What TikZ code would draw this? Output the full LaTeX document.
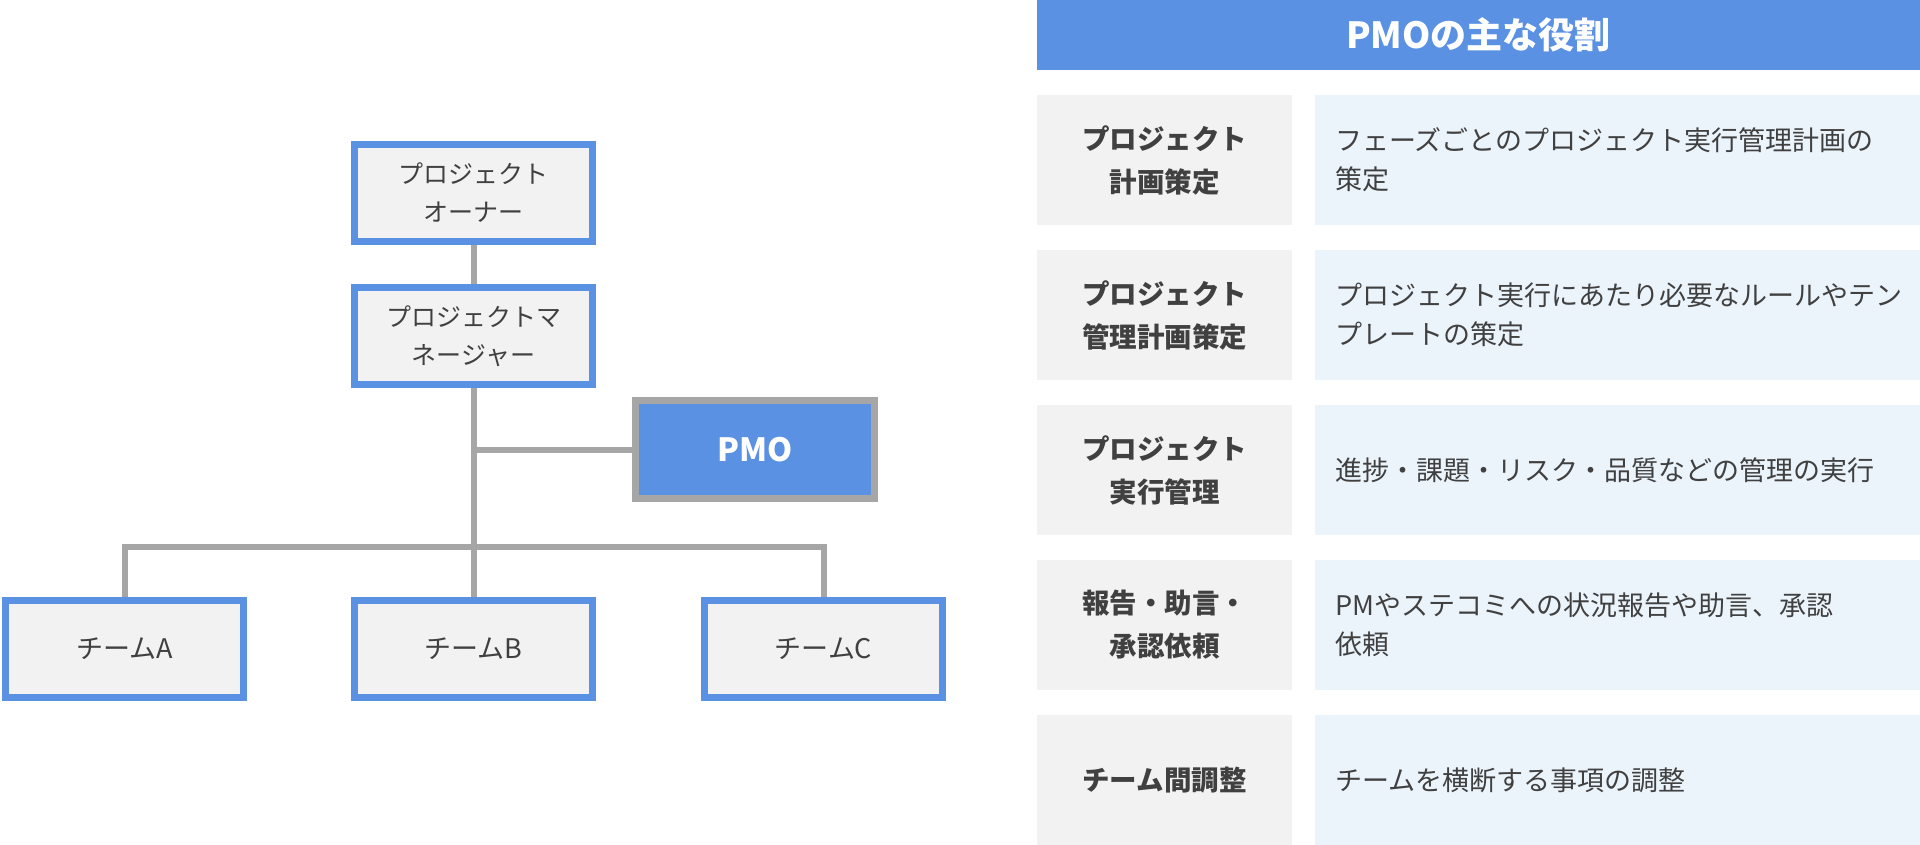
\documentclass[tikz,border=0pt]{standalone}
\usepackage{fontspec}
\newfontfamily\jp{Noto Sans CJK JP}
\definecolor{blu}{HTML}{5B91E3}
\definecolor{boxbg}{HTML}{F2F2F2}
\definecolor{lgray}{HTML}{A6A6A6}
\definecolor{cellL}{HTML}{F2F2F2}
\definecolor{cellR}{HTML}{EBF3FB}
\definecolor{txt}{HTML}{404040}
\tikzset{
  orgbox/.style={draw=blu, line width=7pt, fill=boxbg, minimum width=238pt, minimum height=97pt, inner sep=0pt, align=center, text=txt, font=\jp\fontsize{25pt}{38pt}\selectfont},
  pmobox/.style={draw=lgray, line width=7pt, fill=blu, minimum width=239pt, minimum height=98pt, inner sep=0pt, text=white, font=\jp\bfseries\fontsize{32pt}{36pt}\selectfont},
  conn/.style={draw=lgray, line width=6pt},
  hdr/.style={fill=blu, minimum width=883pt, minimum height=70pt, inner sep=0pt, text=white, font=\jp\bfseries\fontsize{36pt}{40pt}\selectfont},
  lcell/.style={fill=cellL, minimum width=255pt, minimum height=130pt, inner sep=0pt, align=center, text=txt, font=\jp\bfseries\fontsize{27.5pt}{43pt}\selectfont},
  rcell/.style={fill=cellR, minimum width=605pt, minimum height=130pt, inner sep=0pt},
  rtext/.style={anchor=west, align=left, inner sep=0pt, text=txt, font=\jp\fontsize{27pt}{39pt}\selectfont}
}
\begin{document}
\begin{tikzpicture}[x=1pt,y=-1pt]
\useasboundingbox[fill=white] (0,0) rectangle (1920,845);
% org chart
\node[orgbox] (owner) at (473.5,193) {プロジェクト\\オーナー};
\node[orgbox] (pm) at (473.5,336) {プロジェクトマ\\ネージャー};
\node[pmobox] (pmo) at (755,449.5) {PMO};
\node[orgbox, font=\jp\fontsize{27pt}{38pt}\selectfont] (ta) at (124.5,649) {チームA};
\node[orgbox, font=\jp\fontsize{27pt}{38pt}\selectfont] (tb) at (473.5,649) {チームB};
\node[orgbox, font=\jp\fontsize{27pt}{38pt}\selectfont] (tc) at (823.5,649) {チームC};
\coordinate (bar) at (473.5,547);
\draw[conn] (owner) -- (pm);
\draw[conn] (pm) -- (tb);
\draw[conn] (pmo.west) -- (pmo.west -| pm.south);
\draw[conn] (ta.north) |- (bar) -| (tc.north);
% table
\node[hdr] (h) at (1478.5,35) {PMOの主な役割};
\node[lcell] (l1) at (1164.5,160) {プロジェクト\\計画策定};
\node[rcell] (r1) at (1617.5,160) {};
\node[rtext] (t1) at (1335,160) {フェーズごとのプロジェクト実行管理計画の\\策定};
\node[lcell] (l2) at (1164.5,315) {プロジェクト\\管理計画策定};
\node[rcell] (r2) at (1617.5,315) {};
\node[rtext] (t2) at (1335,315) {プロジェクト実行にあたり必要なルールやテン\\プレートの策定};
\node[lcell] (l3) at (1164.5,470) {プロジェクト\\実行管理};
\node[rcell] (r3) at (1617.5,470) {};
\node[rtext] (t3) at (1335,470) {進捗・課題・リスク・品質などの管理の実行};
\node[lcell] (l4) at (1164.5,625) {報告・助言・\\承認依頼};
\node[rcell] (r4) at (1617.5,625) {};
\node[rtext] (t4) at (1335,625) {PMやステコミへの状況報告や助言、承認\\依頼};
\node[lcell] (l5) at (1164.5,780) {チーム間調整};
\node[rcell] (r5) at (1617.5,780) {};
\node[rtext] (t5) at (1335,780) {チームを横断する事項の調整};
\end{tikzpicture}
\end{document}
